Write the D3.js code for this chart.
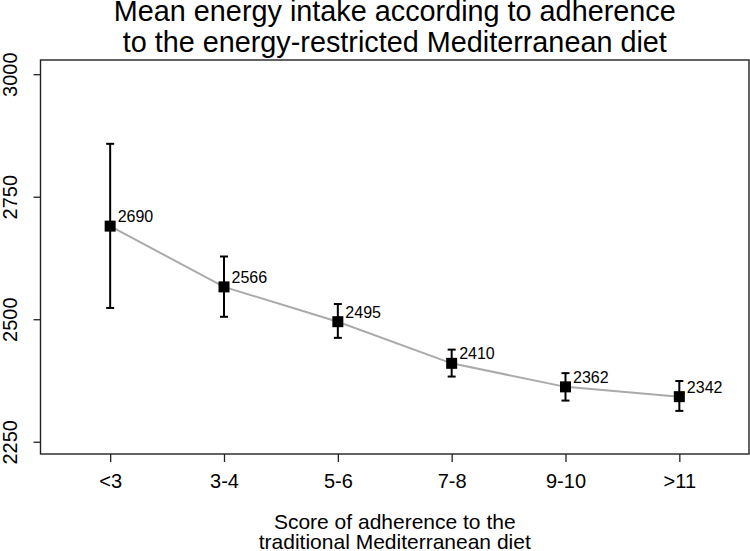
<!DOCTYPE html>
<html>
<head>
<meta charset="utf-8">
<script src="https://cdn.jsdelivr.net/npm/d3@7"></script>
<style>
  html, body { margin: 0; padding: 0; background: #fff; }
  text { font-family: "Liberation Sans", Arial, Helvetica, sans-serif; fill: #000; }
</style>
</head>
<body>
<svg id="chart" width="750" height="551"></svg>
<script>
const categories = ["<3", "3-4", "5-6", "7-8", "9-10", ">11"];
const meanValues = [2690, 2566, 2495, 2410, 2362, 2342];
const lowerValues = [2523, 2505, 2462, 2383, 2334, 2313];
const upperValues = [2858, 2628, 2531, 2438, 2390, 2374];
const yTicks = [2250, 2500, 2750, 3000];
const titleLines = ["Mean energy intake according to adherence", "to the energy-restricted Mediterranean diet"];
const xTitleLines = ["Score of adherence to the", "traditional Mediterranean diet"];

const data = categories.map((c, i) => ({ cat: c, mean: meanValues[i], lo: lowerValues[i], hi: upperValues[i] }));

const svg = d3.select("#chart");
const plotLeft = 40.5, plotRight = 749, plotTop = 60, plotBottom = 454;

const x = d3.scalePoint().domain(categories).range([plotLeft, plotRight]).padding(0.612);
const y = d3.scaleLinear().domain([2225, 3029]).range([plotBottom, plotTop]);

// plot box
svg.append("rect")
  .attr("x", plotLeft).attr("y", plotTop)
  .attr("width", plotRight - plotLeft).attr("height", plotBottom - plotTop)
  .attr("fill", "none").attr("stroke", "#222").attr("stroke-width", 1.4);

// y axis
const yAxis = svg.append("g").attr("transform", `translate(${plotLeft},0)`)
  .call(d3.axisLeft(y).tickValues(yTicks).tickSize(7).tickFormat(d3.format("d")));
yAxis.select(".domain").remove();
yAxis.selectAll(".tick line").attr("stroke", "#222").attr("stroke-width", 1.3);
yAxis.selectAll(".tick text")
  .attr("transform", "rotate(-90)")
  .attr("x", 0).attr("y", -23.5).attr("dy", 0)
  .attr("text-anchor", "middle")
  .style("font-size", "20px")
  .style("font-family", "'Liberation Sans', Arial, sans-serif")
  .attr("fill", "#000");

// x axis
const xAxis = svg.append("g").attr("transform", `translate(0,${plotBottom})`)
  .call(d3.axisBottom(x).tickSize(8));
xAxis.select(".domain").remove();
xAxis.selectAll(".tick line").attr("stroke", "#222").attr("stroke-width", 1.3);
xAxis.selectAll(".tick text")
  .attr("y", 34).attr("dy", 0)
  .style("font-size", "20px")
  .style("font-family", "'Liberation Sans', Arial, sans-serif")
  .attr("fill", "#000");

// connecting line
svg.append("path")
  .datum(data)
  .attr("fill", "none")
  .attr("stroke", "#aaaaaa")
  .attr("stroke-width", 2)
  .attr("d", d3.line().x(d => x(d.cat)).y(d => y(d.mean)));

// error bars
const eb = svg.append("g").attr("stroke", "#000").attr("stroke-width", 2);
data.forEach(d => {
  const cx = x(d.cat);
  eb.append("line").attr("x1", cx).attr("x2", cx).attr("y1", y(d.lo)).attr("y2", y(d.hi));
  eb.append("line").attr("x1", cx - 4).attr("x2", cx + 4).attr("y1", y(d.lo)).attr("y2", y(d.lo));
  eb.append("line").attr("x1", cx - 4).attr("x2", cx + 4).attr("y1", y(d.hi)).attr("y2", y(d.hi));
});

// markers
svg.append("g").selectAll("rect").data(data).join("rect")
  .attr("x", d => x(d.cat) - 5.5).attr("y", d => y(d.mean) - 5.5)
  .attr("width", 11).attr("height", 11).attr("fill", "#000");

// value labels
svg.append("g").selectAll("text").data(data).join("text")
  .attr("x", d => x(d.cat) + 7.5).attr("y", d => y(d.mean) - 4)
  .style("font-size", "16px")
  .text(d => d.mean);

// title
const cx0 = (plotLeft + plotRight) / 2;
svg.append("text")
  .attr("text-anchor", "middle")
  .style("font-size", "28.8px")
  .selectAll("tspan").data(titleLines).join("tspan")
  .attr("x", cx0).attr("y", (d, i) => 21 + i * 31)
  .text(d => d);

// x axis title
svg.append("text")
  .attr("text-anchor", "middle")
  .style("font-size", "21px")
  .selectAll("tspan").data(xTitleLines).join("tspan")
  .attr("x", cx0).attr("y", (d, i) => 529 + i * 19.5)
  .text(d => d);
</script>
</body>
</html>
